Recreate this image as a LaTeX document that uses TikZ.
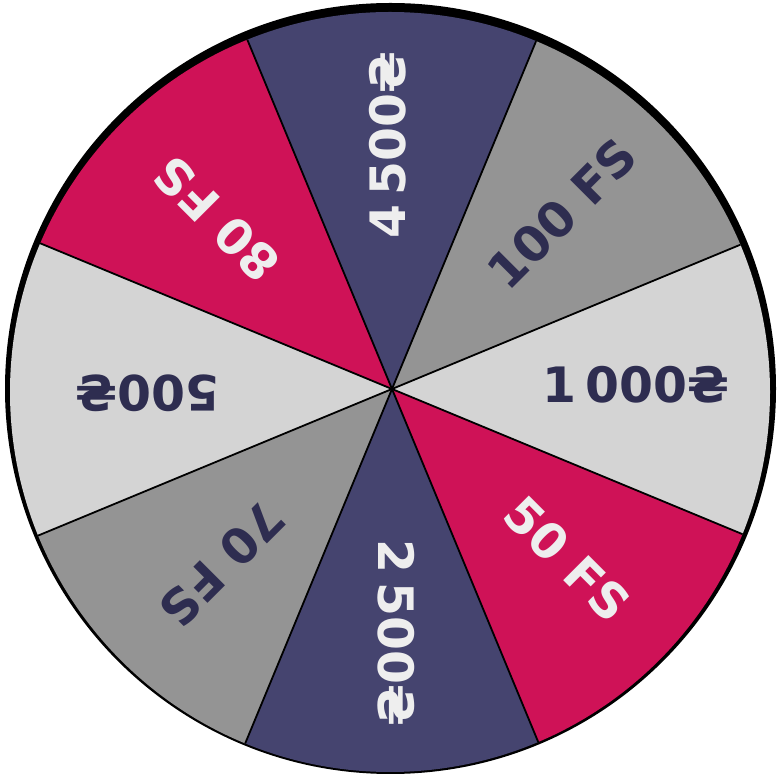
\documentclass[tikz,border=0pt]{standalone}
\usepackage{fontspec}
\newfontfamily\wheelfont{DejaVu Sans}
\usetikzlibrary{calc}
\definecolor{wnavy}{HTML}{45446F}
\definecolor{wred}{HTML}{CF1257}
\definecolor{wgray}{HTML}{949494}
\definecolor{wlight}{HTML}{D4D4D4}
\definecolor{wtext}{HTML}{2E2D50}
\definecolor{wwhite}{HTML}{EEEEEE}
\begin{document}
\begin{tikzpicture}[x=1bp,y=1bp,
  lbl/.style={font=\wheelfont\bfseries\fontsize{49}{58}\selectfont, inner sep=0pt, anchor=center},
  divider/.style={black, line width=1.8bp}]
\useasboundingbox (0,0) rectangle (782,782);
\coordinate (O) at (392,393);
\fill[black] (390.5,393.5) circle (385.5);
\begin{scope}
  \clip (390,390) circle (380);
  \foreach \a/\c in {90/wnavy,45/wgray,0/wlight,-45/wred,-90/wnavy,-135/wgray,180/wlight,135/wred}
    \fill[\c] (O) -- ($(O)+(\a-22.5:470)$) -- ($(O)+(\a:500)$) -- ($(O)+(\a+22.5:470)$) -- cycle;
  \foreach \a [count=\i] in {22.5,67.5,112.5,157.5,202.5,247.5,292.5,337.5}
    \coordinate (r\i) at ($(O)+(\a:470)$);
  \foreach \i in {1,...,8}
    \draw[divider] (O) -- (r\i);
\end{scope}
\foreach \a/\t/\tc [count=\i] in {90/4\kern0.2em500₴/wwhite, 45/100 FS/wtext, 0/1\kern0.2em000₴/wtext, -45/50 FS/wwhite, -90/2\kern0.2em500₴/wwhite, -135/70 FS/wtext, 180/500₴/wtext, 135/80 FS/wwhite}
  \node[lbl, rotate=\a, text=\tc] (t\i) at ($(O)+(\a:244)+(\a+90:4)$) {\t};
\end{tikzpicture}
\end{document}
